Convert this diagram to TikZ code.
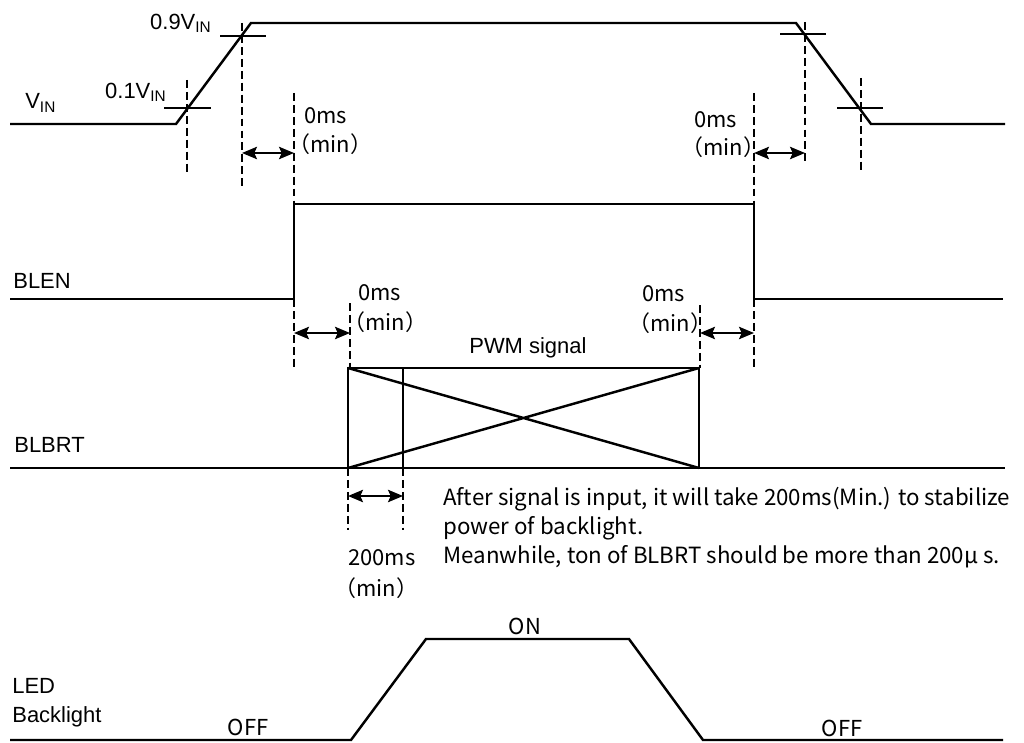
\documentclass[tikz,border=0pt]{standalone}
\usepackage{fontspec}
\setmainfont{Liberation Sans}
\newfontfamily\jpfont{Noto Sans CJK JP}
\usetikzlibrary{arrows.meta}
\tikzset{> = {Stealth[length=8.5pt,width=7pt,inset=1.5pt]}}
\tikzset{
  wave/.style={line width=1.4pt, line join=miter},
  guide/.style={line width=1.1pt, dash pattern=on 4.5pt off 2.3pt},
  cross/.style={line width=1.1pt},
  gap/.style={<->, line width=1.3pt},
  lbl/.style={inner sep=0pt, font=\fontsize{12.5}{15}\selectfont},
  note/.style={inner sep=0pt, font=\jpfont\fontsize{12.5}{15}\selectfont}
}

\begin{document}
\begin{tikzpicture}[x=0.02cm, y=-0.02cm]
\useasboundingbox (0,0) rectangle (1024,743);

% signal names
\node[lbl, anchor=west] (vin) at (25,103) {V\textsubscript{IN}};
\node[lbl, anchor=east] (v01) at (167,92) {0.1V\textsubscript{IN}};
\node[lbl, anchor=east] (v09) at (212,23) {0.9V\textsubscript{IN}};
\node[lbl, anchor=west] (blen) at (13,281) {BLEN};
\node[lbl, anchor=west] (blbrt) at (14,445) {BLBRT};
\node[lbl, anchor=west] (led) at (12,686) {LED};
\node[lbl, anchor=west] (bl) at (12,717) {Backlight};

% waveforms
\draw[wave] (10,124) -- (176,124) -- (251,23) -- (796,23) -- (871,124) -- (1005,124);
\draw[wave] (10,299) -- (294,299) -- (294,204) -- (754,204) -- (754,299) -- (1003,299);
\draw[wave] (10,468) -- (1005,468);
\draw[wave] (348,368) rectangle (699,468);
\draw[wave] (403,368) -- (403,468);
\draw[wave] (348,468) -- (699,368) (348,368) -- (699,468);
\draw[wave] (10,740) -- (351,740) -- (426,639) -- (629,639) -- (703,740) -- (1003,740);

% level marks
\draw[cross] (164,108) -- (211,108) (220,36) -- (266,36);
\draw[cross] (780,34) -- (826,34) (837,108) -- (883,108);

% guide lines
\draw[guide] (187,80) -- (187,172);
\draw[guide] (242,23) -- (242,190);
\draw[guide] (294,93) -- (294,204);
\draw[guide] (754,93) -- (754,204);
\draw[guide] (805,22) -- (805,165);
\draw[guide] (861,78) -- (861,172);
\draw[guide] (294,299) -- (294,368);
\draw[guide] (350,303) -- (350,368);
\draw[guide] (700,305) -- (700,368);
\draw[guide] (754,299) -- (754,370);
\draw[guide] (348,468) -- (348,530);
\draw[guide] (403,468) -- (403,530);

% timing arrows
\coordinate (a1) at (242,153); \coordinate (b1) at (294,153);
\coordinate (a2) at (754,153); \coordinate (b2) at (805,153);
\coordinate (a3) at (294,333); \coordinate (b3) at (350,333);
\coordinate (a4) at (700,333); \coordinate (b4) at (754,333);
\coordinate (a5) at (348,496); \coordinate (b5) at (403,496);
\draw[gap] (a1) -- (b1);
\draw[gap] (a2) -- (b2);
\draw[gap] (a3) -- (b3);
\draw[gap] (a4) -- (b4);
\draw[gap] (a5) -- (b5);

% timing labels
\node[note, anchor=west] (t1) at (304,116) {0ms};
\node[note, anchor=west] (t1m) at (288,144) {（min）};
\node[note, anchor=west] (t2) at (694,120) {0ms};
\node[note, anchor=west] (t2m) at (681,147) {（min）};
\node[note, anchor=west] (t3) at (358,293) {0ms};
\node[note, anchor=west] (t3m) at (343,322) {（min）};
\node[note, anchor=west] (t4) at (642,294) {0ms};
\node[note, anchor=west] (t4m) at (628,323) {（min）};
\node[note, anchor=west] (t5) at (348,558) {200ms};
\node[note, anchor=west] (t5m) at (334,588) {（min）};

% PWM and backlight texts
\node[lbl, anchor=west] (pwm) at (469,348) {PWM signal};
\node[note, anchor=north west, align=left, font=\jpfont\fontsize{12.7}{16.4}\selectfont] (txt) at (443,487)
{After signal is input, it will take 200ms(Min.) to stabilize\\power of backlight.\\Meanwhile, ton of BLBRT should be more than 200μ s.};
\node[note] (on) at (525,626) {ON};
\node[note] (off1) at (248,727) {OFF};
\node[note] (off2) at (842,728) {OFF};

\end{tikzpicture}
\end{document}
